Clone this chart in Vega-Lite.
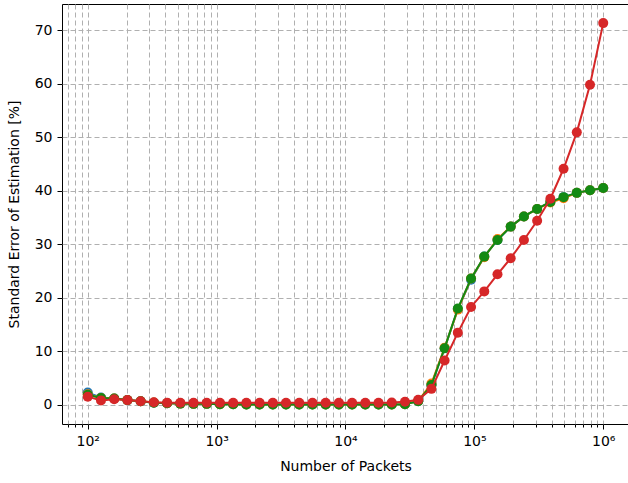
{
  "$schema": "https://vega.github.io/schema/vega-lite/v6.json",
  "width": 567,
  "height": 420,
  "autosize": {"type": "none"},
  "padding": {"left": 62, "top": 4, "right": 0, "bottom": 59},
  "background": "white",
  "config": {
    "font": "DejaVu Sans",
    "view": {"stroke": "black", "strokeWidth": 1},
    "axis": {
      "domain": false,
      "grid": true,
      "gridColor": "#b0b0b0",
      "gridDash": [5, 3],
      "gridWidth": 1,
      "tickColor": "black",
      "tickWidth": 1,
      "labelColor": "black",
      "labelFontSize": 14,
      "titleFontSize": 14,
      "titleFontWeight": "normal",
      "titleColor": "black"
    }
  },
  "data": {
    "values": [
      {"n": 100, "s1": 2.3, "s2": 2.0, "s3": 1.9, "s4": 1.55},
      {"n": 126.6, "s1": 1.4, "s2": 1.3, "s3": 1.3, "s4": 0.85},
      {"n": 160.4, "s1": 1.2, "s2": 1.2, "s3": 1.2, "s4": 1.05},
      {"n": 203.1, "s1": 0.9, "s2": 0.9, "s3": 0.9, "s4": 0.9},
      {"n": 257.2, "s1": 0.7, "s2": 0.7, "s3": 0.7, "s4": 0.7},
      {"n": 325.7, "s1": 0.4, "s2": 0.45, "s3": 0.4, "s4": 0.5},
      {"n": 412.5, "s1": 0.3, "s2": 0.3, "s3": 0.3, "s4": 0.4},
      {"n": 522.4, "s1": 0.25, "s2": 0.25, "s3": 0.25, "s4": 0.4},
      {"n": 661.6, "s1": 0.2, "s2": 0.2, "s3": 0.2, "s4": 0.4},
      {"n": 837.9, "s1": 0.2, "s2": 0.2, "s3": 0.2, "s4": 0.4},
      {"n": 1060.8, "s1": 0.15, "s2": 0.15, "s3": 0.15, "s4": 0.4},
      {"n": 1343.4, "s1": 0.12, "s2": 0.12, "s3": 0.12, "s4": 0.4},
      {"n": 1701.3, "s1": 0.1, "s2": 0.1, "s3": 0.1, "s4": 0.4},
      {"n": 2154.4, "s1": 0.1, "s2": 0.1, "s3": 0.1, "s4": 0.4},
      {"n": 2728.3, "s1": 0.1, "s2": 0.1, "s3": 0.1, "s4": 0.4},
      {"n": 3455.1, "s1": 0.1, "s2": 0.1, "s3": 0.1, "s4": 0.4},
      {"n": 4375.5, "s1": 0.1, "s2": 0.1, "s3": 0.1, "s4": 0.4},
      {"n": 5541.0, "s1": 0.1, "s2": 0.1, "s3": 0.1, "s4": 0.4},
      {"n": 7017.0, "s1": 0.1, "s2": 0.1, "s3": 0.1, "s4": 0.4},
      {"n": 8886.2, "s1": 0.1, "s2": 0.1, "s3": 0.1, "s4": 0.4},
      {"n": 11253, "s1": 0.1, "s2": 0.1, "s3": 0.1, "s4": 0.4},
      {"n": 14251, "s1": 0.1, "s2": 0.1, "s3": 0.1, "s4": 0.4},
      {"n": 18047, "s1": 0.1, "s2": 0.1, "s3": 0.1, "s4": 0.4},
      {"n": 22855, "s1": 0.1, "s2": 0.1, "s3": 0.1, "s4": 0.45},
      {"n": 28943, "s1": 0.15, "s2": 0.15, "s3": 0.15, "s4": 0.6},
      {"n": 36654, "s1": 0.7, "s2": 0.75, "s3": 0.7, "s4": 0.95},
      {"n": 46416, "s1": 3.7, "s2": 4.0, "s3": 3.7, "s4": 3.0},
      {"n": 58780, "s1": 10.6, "s2": 10.7, "s3": 10.6, "s4": 8.3},
      {"n": 74438, "s1": 17.9, "s2": 17.8, "s3": 18.0, "s4": 13.5},
      {"n": 94267, "s1": 23.4, "s2": 23.6, "s3": 23.6, "s4": 18.3},
      {"n": 119380, "s1": 27.7, "s2": 27.6, "s3": 27.7, "s4": 21.2},
      {"n": 151180, "s1": 30.8, "s2": 31.0, "s3": 30.8, "s4": 24.4},
      {"n": 191450, "s1": 33.3, "s2": 33.3, "s3": 33.3, "s4": 27.4},
      {"n": 242450, "s1": 35.2, "s2": 35.2, "s3": 35.2, "s4": 30.8},
      {"n": 307030, "s1": 36.6, "s2": 36.6, "s3": 36.6, "s4": 34.4},
      {"n": 388820, "s1": 37.9, "s2": 37.8, "s3": 37.9, "s4": 38.5},
      {"n": 492390, "s1": 38.8, "s2": 38.6, "s3": 38.8, "s4": 44.1},
      {"n": 623550, "s1": 39.6, "s2": 39.6, "s3": 39.6, "s4": 50.9},
      {"n": 789650, "s1": 40.1, "s2": 40.1, "s3": 40.1, "s4": 59.8},
      {"n": 1000000, "s1": 40.5, "s2": 40.5, "s3": 40.5, "s4": 71.3}
    ]
  },
  "transform": [
    {"fold": ["s1", "s2", "s3", "s4"], "as": ["series", "err"]}
  ],
  "encoding": {
    "x": {
      "field": "n",
      "type": "quantitative",
      "title": "Number of Packets",
      "scale": {"type": "log", "domain": [63.1, 1584900], "nice": false},
      "axis": {
        "values": [70, 80, 90, 100, 200, 300, 400, 500, 600, 700, 800, 900,
                   1000, 2000, 3000, 4000, 5000, 6000, 7000, 8000, 9000,
                   10000, 20000, 30000, 40000, 50000, 60000, 70000, 80000, 90000,
                   100000, 200000, 300000, 400000, 500000, 600000, 700000, 800000, 900000,
                   1000000],
        "labelExpr": "datum.value == 100 ? '10²' : datum.value == 1000 ? '10³' : datum.value == 10000 ? '10⁴' : datum.value == 100000 ? '10⁵' : datum.value == 1000000 ? '10⁶' : ''",
        "tickSize": {
          "condition": {"test": "datum.value == 100 || datum.value == 1000 || datum.value == 10000 || datum.value == 100000 || datum.value == 1000000", "value": 5},
          "value": 3
        },
        "labelOverlap": false,
        "labelFlush": false,
        "labelPadding": 5,
        "titlePadding": 11
      }
    },
    "y": {
      "field": "err",
      "type": "quantitative",
      "title": "Standard Error of Estimation [%]",
      "scale": {"domain": [-3.56, 74.87], "nice": false, "zero": false},
      "axis": {
        "values": [0, 10, 20, 30, 40, 50, 60, 70],
        "tickSize": 5,
        "labelPadding": 5,
        "titlePadding": 13
      }
    },
    "color": {
      "field": "series",
      "type": "nominal",
      "scale": {"domain": ["s1", "s2", "s3", "s4"], "range": ["#1f77b4", "#ff7f0e", "#138a13", "#d62728"]},
      "legend": null
    }
  },
  "layer": [
    {
      "transform": [{"filter": "datum.series == 's1'"}],
      "mark": {"type": "line", "strokeWidth": 2, "point": {"filled": true, "size": 100, "opacity": 1}}
    },
    {
      "transform": [{"filter": "datum.series == 's2'"}],
      "mark": {"type": "line", "strokeWidth": 2, "point": {"filled": true, "size": 100, "opacity": 1}}
    },
    {
      "transform": [{"filter": "datum.series == 's3'"}],
      "mark": {"type": "line", "strokeWidth": 2, "point": {"filled": true, "size": 100, "opacity": 1}}
    },
    {
      "transform": [{"filter": "datum.series == 's4'"}],
      "mark": {"type": "line", "strokeWidth": 2, "point": {"filled": true, "size": 100, "opacity": 1}}
    }
  ]
}
